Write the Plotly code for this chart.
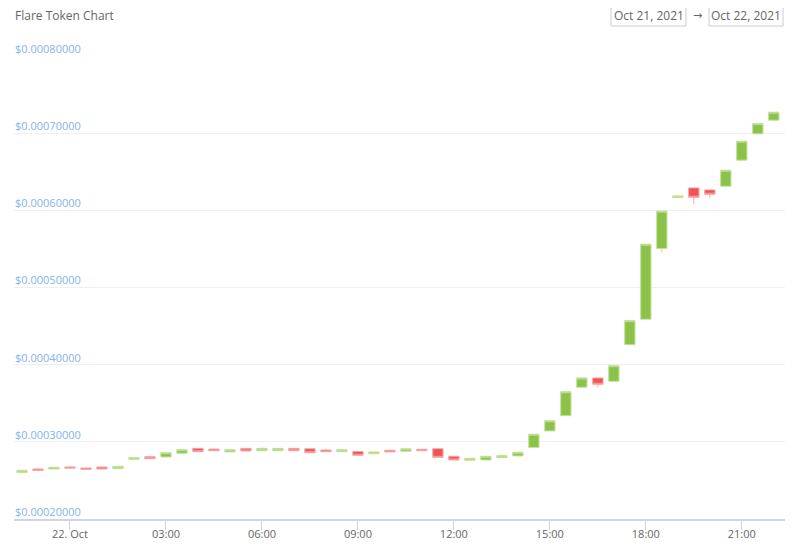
import plotly.graph_objects as go

# 30 minute candles, 22:30 on Oct 21 through 22:00 on Oct 22
times = [
    "2021-10-21 22:30", "2021-10-21 23:00", "2021-10-21 23:30",
    "2021-10-22 00:00", "2021-10-22 00:30", "2021-10-22 01:00", "2021-10-22 01:30",
    "2021-10-22 02:00", "2021-10-22 02:30", "2021-10-22 03:00", "2021-10-22 03:30",
    "2021-10-22 04:00", "2021-10-22 04:30", "2021-10-22 05:00", "2021-10-22 05:30",
    "2021-10-22 06:00", "2021-10-22 06:30", "2021-10-22 07:00", "2021-10-22 07:30",
    "2021-10-22 08:00", "2021-10-22 08:30", "2021-10-22 09:00", "2021-10-22 09:30",
    "2021-10-22 10:00", "2021-10-22 10:30", "2021-10-22 11:00", "2021-10-22 11:30",
    "2021-10-22 12:00", "2021-10-22 12:30", "2021-10-22 13:00", "2021-10-22 13:30",
    "2021-10-22 14:00", "2021-10-22 14:30", "2021-10-22 15:00", "2021-10-22 15:30",
    "2021-10-22 16:00", "2021-10-22 16:30", "2021-10-22 17:00", "2021-10-22 17:30",
    "2021-10-22 18:00", "2021-10-22 18:30", "2021-10-22 19:00", "2021-10-22 19:30",
    "2021-10-22 20:00", "2021-10-22 20:30", "2021-10-22 21:00", "2021-10-22 21:30",
    "2021-10-22 22:00",
]

opens = [
    0.0002603, 0.0002648, 0.0002648, 0.0002674, 0.0002661, 0.0002674, 0.0002652,
    0.0002774, 0.0002808, 0.0002804, 0.0002852, 0.0002916, 0.0002907, 0.0002869,
    0.0002916, 0.0002885, 0.0002885, 0.0002916, 0.0002911, 0.0002894, 0.0002872,
    0.0002875, 0.0002846, 0.0002891, 0.0002878, 0.0002904, 0.0002911, 0.0002813,
    0.0002761, 0.0002765, 0.0002795, 0.0002817, 0.0002927, 0.0003141, 0.0003339,
    0.0003707, 0.0003828, 0.0003785, 0.0004259, 0.0004589, 0.0005504, 0.0006165,
    0.0006291, 0.0006265, 0.0006313, 0.0006650, 0.0006991, 0.0007168,
]
highs = [
    0.0002631, 0.0002661, 0.0002670, 0.0002691, 0.0002661, 0.0002674, 0.0002683,
    0.0002795, 0.0002821, 0.0002859, 0.0002898, 0.0002916, 0.0002907, 0.0002898,
    0.0002916, 0.0002929, 0.0002916, 0.0002916, 0.0002911, 0.0002911, 0.0002898,
    0.0002875, 0.0002869, 0.0002891, 0.0002911, 0.0002904, 0.0002911, 0.0002813,
    0.0002787, 0.0002813, 0.0002821, 0.0002865, 0.0003099, 0.0003274, 0.0003650,
    0.0003828, 0.0003828, 0.0003987, 0.0004571, 0.0005561, 0.0005989, 0.0006187,
    0.0006291, 0.0006265, 0.0006520, 0.0006896, 0.0007124, 0.0007272,
]
lows = [
    0.0002603, 0.0002631, 0.0002648, 0.0002661, 0.0002644, 0.0002648, 0.0002652,
    0.0002774, 0.0002782, 0.0002804, 0.0002852, 0.0002872, 0.0002885, 0.0002869,
    0.0002881, 0.0002885, 0.0002885, 0.0002885, 0.0002859, 0.0002872, 0.0002872,
    0.0002826, 0.0002846, 0.0002869, 0.0002878, 0.0002885, 0.0002800, 0.0002765,
    0.0002761, 0.0002765, 0.0002795, 0.0002817, 0.0002927, 0.0003141, 0.0003339,
    0.0003707, 0.0003707, 0.0003785, 0.0004259, 0.0004589, 0.0005444, 0.0006165,
    0.0006079, 0.0006157, 0.0006313, 0.0006650, 0.0006991, 0.0007168,
]
closes = [
    0.0002631, 0.0002631, 0.0002670, 0.0002661, 0.0002644, 0.0002648, 0.0002683,
    0.0002795, 0.0002782, 0.0002859, 0.0002898, 0.0002872, 0.0002885, 0.0002898,
    0.0002881, 0.0002916, 0.0002916, 0.0002885, 0.0002859, 0.0002872, 0.0002898,
    0.0002826, 0.0002869, 0.0002869, 0.0002911, 0.0002885, 0.0002800, 0.0002765,
    0.0002787, 0.0002813, 0.0002821, 0.0002865, 0.0003099, 0.0003274, 0.0003650,
    0.0003828, 0.0003746, 0.0003987, 0.0004571, 0.0005561, 0.0005989, 0.0006187,
    0.0006170, 0.0006209, 0.0006520, 0.0006896, 0.0007124, 0.0007272,
]

tick_times = [
    "2021-10-22 00:00", "2021-10-22 03:00", "2021-10-22 06:00", "2021-10-22 09:00",
    "2021-10-22 12:00", "2021-10-22 15:00", "2021-10-22 18:00", "2021-10-22 21:00",
]
tick_labels = ["22. Oct", "03:00", "06:00", "09:00", "12:00", "15:00", "18:00", "21:00"]

title_text = "Flare Token Chart"
range_from = "Oct 21, 2021"
range_to = "Oct 22, 2021"

#%% layout helpers
# the page body has an 8px margin, so work in screen pixels and shift back
OFF = 8
W, H = 800 - OFF, 551 - OFF
PL, PR, PT, PB = 14 - OFF, 785 - OFF, 56 - OFF, 519 - OFF


def px_x(x):
    return (x - OFF - PL) / (PR - PL)


def px_y(y):
    return (PB - (y - OFF)) / (PB - PT)


font = "Open Sans, Noto Sans, sans-serif"

fig = go.Figure(
    go.Candlestick(
        x=times,
        open=opens,
        high=highs,
        low=lows,
        close=closes,
        increasing=dict(fillcolor="#8bc34a", line=dict(color="#c3e19b", width=1)),
        decreasing=dict(fillcolor="#f05353", line=dict(color="#f6a5a5", width=1)),
        whiskerwidth=0,
        hoverinfo="x+y",
    )
)

fig.update_layout(
    width=W,
    height=H,
    margin=dict(l=PL, r=W - PR, t=PT, b=H - PB, pad=0, autoexpand=False),
    paper_bgcolor="white",
    plot_bgcolor="white",
    showlegend=False,
    boxgap=0.08,
    font=dict(family=font, color="#666666"),
    xaxis=dict(
        type="date",
        range=["2021-10-21 22:15", "2021-10-22 22:21"],
        rangeslider=dict(visible=False),
        tickvals=tick_times,
        ticktext=tick_labels,
        showgrid=False,
        showline=True,
        linecolor="#ccd6eb",
        linewidth=2,
        ticks="outside",
        ticklen=9,
        tickwidth=1,
        tickcolor="#ccd6eb",
        ticklabelstandoff=-5,
        tickfont=dict(size=11, color="#666666"),
        zeroline=False,
        automargin=False,
    ),
    yaxis=dict(
        range=[0.0002, 0.0008],
        dtick=0.0001,
        tick0=0.0002,
        tickprefix="$",
        tickformat=".8f",
        anchor="free",
        position=0,
        side="right",
        ticklabelshift=-7,
        ticklabelstandoff=0,
        ticks="",
        showgrid=True,
        gridcolor="#efefef",
        gridwidth=1,
        zeroline=False,
        showline=False,
        automargin=False,
        tickfont=dict(size=11, color="#86b3ea"),
    ),
)

# title and date range boxes
fig.add_annotation(
    text=title_text, xref="paper", yref="paper", x=px_x(13), y=px_y(15),
    xanchor="left", yanchor="middle", showarrow=False,
    font=dict(size=12, color="#666666"),
)
for x0, x1, label in [(611, 686, range_from), (709, 783, range_to)]:
    fig.add_shape(
        type="rect", xref="paper", yref="paper",
        x0=px_x(x0), x1=px_x(x1), y0=px_y(26), y1=px_y(4),
        line=dict(color="#cccccc", width=1), fillcolor="white",
    )
    fig.add_annotation(
        text=label, xref="paper", yref="paper", x=px_x((x0 + x1) / 2), y=px_y(15),
        xanchor="center", yanchor="middle", showarrow=False,
        font=dict(size=12, color="#666666"),
    )
fig.add_annotation(
    text="→", xref="paper", yref="paper", x=px_x(697), y=px_y(15),
    xanchor="center", yanchor="middle", showarrow=False,
    font=dict(family="DejaVu Sans", size=11, color="#666666"),
)
# partly hidden button at the very top
fig.add_shape(
    type="rect", xref="paper", yref="paper",
    x0=px_x(717), x1=px_x(758), y0=px_y(1), y1=px_y(-10),
    line=dict(color="#dddddd", width=1), fillcolor="white",
)

fig.write_html("out.html")
